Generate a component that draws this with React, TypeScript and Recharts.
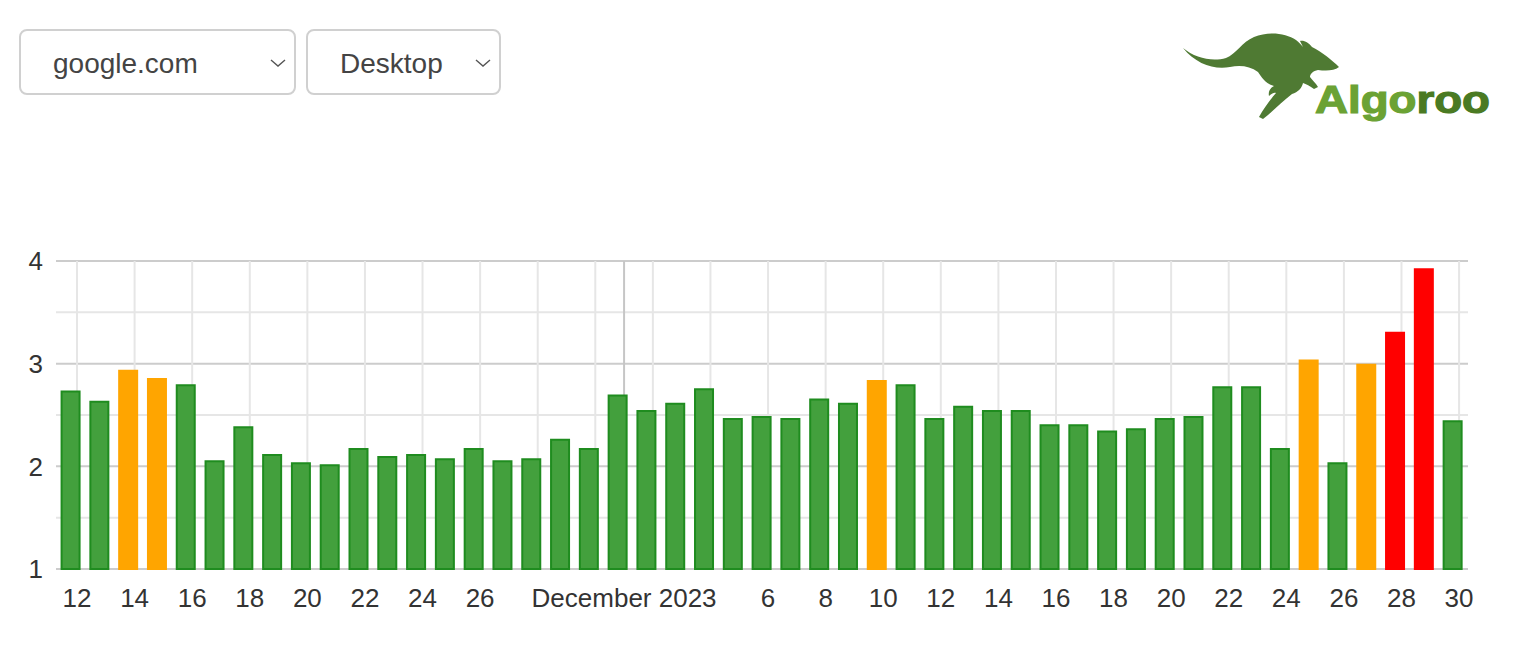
import { BarChart, Bar, XAxis, YAxis, CartesianGrid, Cell } from 'recharts';

// one bar per day, Nov 12 2023 -> Dec 30 2023
const dayOfMonth = [
  12, 13, 14, 15, 16, 17, 18, 19, 20, 21, 22, 23, 24, 25, 26, 27, 28, 29, 30,
  1, 2, 3, 4, 5, 6, 7, 8, 9, 10, 11, 12, 13, 14, 15, 16, 17, 18, 19, 20, 21, 22, 23, 24, 25, 26, 27, 28, 29, 30,
];

const scores = [
  2.73, 2.63, 2.93, 2.85, 2.79, 2.05, 2.38, 2.11, 2.03, 2.01, 2.17, 2.09, 2.11, 2.07, 2.17, 2.05, 2.07, 2.26, 2.17,
  2.69, 2.54, 2.61, 2.75, 2.46, 2.48, 2.46, 2.65, 2.61, 2.83, 2.79, 2.46, 2.58, 2.54, 2.54, 2.40, 2.40, 2.34, 2.36,
  2.46, 2.48, 2.77, 2.77, 2.17, 3.03, 2.03, 2.99, 3.30, 3.92, 2.44,
];

// positions on the axis (day index from Nov 12) and what is written under them
const tickIndex = [0, 2, 4, 6, 8, 10, 12, 14, 16, 18, 19, 20, 22, 24, 26, 28, 30, 32, 34, 36, 38, 40, 42, 44, 46, 48];
const tickLabels = [
  '12', '14', '16', '18', '20', '22', '24', '26', '', '', 'December 2023', '', '',
  '6', '8', '10', '12', '14', '16', '18', '20', '22', '24', '26', '28', '30',
];
const monthStart = 19;

// grid every half step, labels on whole values only
const yTicks = [1, 1.5, 2, 2.5, 3, 3.5, 4];

const X_DOMAIN: [number, number] = [-0.73, 48.31];
const BAR_SHIFT = 0.21; // bars sit a little left of the day line
const FONT = '"Liberation Sans", Arial, Helvetica, sans-serif';

const rows = scores.map((v, i) => ({ day: i, date: dayOfMonth[i], score: v }));

function barColor(v: number) {
  if (v >= 3.2) return { fill: '#ff0000', stroke: '#ff0000' };
  if (v >= 2.8) return { fill: '#ffa500', stroke: '#ffa500' };
  return { fill: '#43a03d', stroke: '#1f8c1f' };
}

function DayTick(props: any) {
  const { x, y, payload } = props;
  const label = tickLabels[tickIndex.indexOf(payload.value)];
  if (!label) return null;
  return (
    <text x={x} y={y} dy="0.71em" textAnchor="middle" fill="#333" fontSize={26} fontFamily={FONT}>
      {label}
    </text>
  );
}

function ValueTick(props: any) {
  const { x, y, payload } = props;
  if (!Number.isInteger(payload.value)) return null;
  return (
    <text x={x} y={y} dy="0.355em" textAnchor="end" fill="#333" fontSize={26} fontFamily={FONT}>
      {payload.value}
    </text>
  );
}

function hLine(props: any) {
  const { x1, x2, y1, y2, index } = props;
  const major = Number.isInteger(yTicks[index]);
  return (
    <line key={`h${index}`} x1={x1} x2={x2} y1={y1} y2={y2} stroke={major ? '#cccccc' : '#e6e6e6'} strokeWidth={2} />
  );
}

function vLine(props: any) {
  const { x1, x2, y1, y2, index, x, width } = props;
  // no border lines on the plot edges
  if (x != null && width != null && (Math.abs(x1 - x) < 2 || Math.abs(x1 - (x + width)) < 2)) {
    return <g key={`v${index}`} />;
  }
  const month = tickIndex[index] === monthStart;
  return (
    <line key={`v${index}`} x1={x1} x2={x2} y1={y1} y2={y2} stroke={month ? '#c6c6c6' : '#e6e6e6'} strokeWidth={2} />
  );
}

function Select({ left, width, label }: { left: number; width: number; label: string }) {
  return (
    <div
      style={{
        position: 'absolute',
        left,
        top: 29,
        width,
        height: 66,
        boxSizing: 'border-box',
        border: '2px solid #d0d0d0',
        borderRadius: 8,
        background: '#fff',
      }}
    >
      <span
        style={{
          position: 'absolute',
          left: 32,
          top: 17,
          fontSize: 28,
          lineHeight: '32px',
          color: '#444',
          fontFamily: FONT,
        }}
      >
        {label}
      </span>
      <svg style={{ position: 'absolute', right: 7, top: 26 }} width={18} height={12}>
        <polyline points="2,3 9,9 16,3" fill="none" stroke="#555" strokeWidth={1.4} />
      </svg>
    </div>
  );
}

function Logo() {
  return (
    <svg style={{ position: 'absolute', left: 0, top: 0 }} width={1516} height={140}>
      <path
        d="M1183,48 C1195,58 1212,62 1226,58 C1236,54 1242,42 1254,37 C1268,31 1286,33 1296,40 C1299,42 1301,45 1303,47 L1300,41 C1304,40 1309,43 1312,47 C1322,52 1332,60 1339,67 C1334,71 1326,71 1318,70 C1313,71 1310,74 1310,77 C1312,80 1316,83 1318,87 L1314,89 C1310,86 1306,84 1303,83 C1302,88 1298,92 1292,94 C1284,100 1276,108 1268,115 L1263,119 L1259,117 C1264,108 1270,100 1276,93 C1274,92 1271,94 1269,96 C1268,92 1270,88 1274,86 C1266,84 1262,78 1258,72 C1250,66 1240,65 1230,67 C1214,70 1196,64 1183,48 Z"
        fill="#4f7a33"
      />
      <text
        x={1315}
        y={113}
        fontSize={39}
        fontWeight={700}
        fontFamily={FONT}
        textLength={175}
        lengthAdjust="spacingAndGlyphs"
        strokeWidth={1.2}
      >
        <tspan fill="#6ba234" stroke="#6ba234">Algo</tspan>
        <tspan fill="#4a7a23" stroke="#4a7a23">roo</tspan>
      </text>
    </svg>
  );
}

export default function App() {
  return (
    <div style={{ position: 'absolute', left: 0, top: 0, width: 1516, height: 652, background: '#fff' }}>
      <Select left={19} width={277} label="google.com" />
      <Select left={306} width={195} label="Desktop" />
      <Logo />
      <div style={{ position: 'absolute', left: 0, top: 240 }}>
        <BarChart width={1516} height={400} data={rows} margin={{ top: 21, right: 48, left: 0, bottom: 0 }}>
          <CartesianGrid horizontal={hLine} vertical={vLine} />
          <XAxis
            type="number"
            dataKey={(d: any) => d.day - BAR_SHIFT}
            domain={X_DOMAIN}
            ticks={tickIndex}
            interval={0}
            tick={<DayTick />}
            tickLine={false}
            axisLine={false}
            tickMargin={14}
            height={71}
          />
          <YAxis
            domain={[1, 4]}
            ticks={yTicks}
            interval={0}
            width={56}
            tickLine={false}
            axisLine={false}
            tickMargin={7}
            tick={<ValueTick />}
          />
          <Bar dataKey="score" barSize={18} strokeWidth={2} isAnimationActive={false}>
            {rows.map((r) => {
              const c = barColor(r.score);
              return <Cell key={r.day} fill={c.fill} stroke={c.stroke} />;
            })}
          </Bar>
        </BarChart>
      </div>
    </div>
  );
}
